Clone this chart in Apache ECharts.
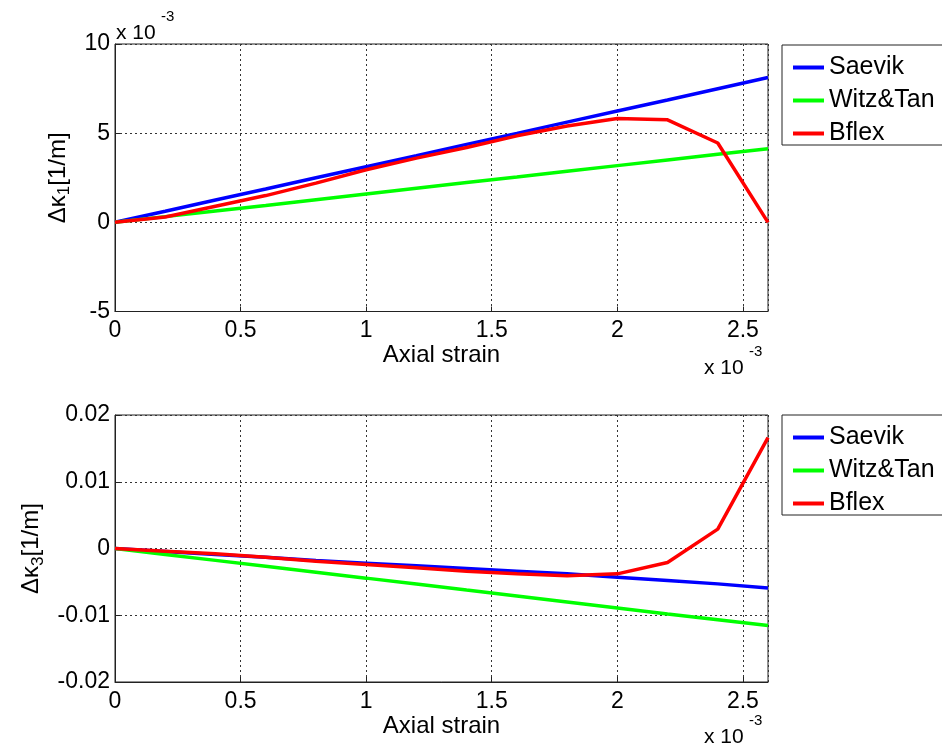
<!DOCTYPE html>
<html>
<head>
<meta charset="utf-8">
<script src="https://cdn.jsdelivr.net/npm/echarts@6/dist/echarts.min.js"></script>
<style>html,body{margin:0;padding:0;background:#fff}#c{width:942px;height:752px}</style>
</head>
<body>
<div id="c"></div>
<script>
// Axial strain (x 10^-3)
var strain = [0, 0.2, 0.4, 0.6, 0.8, 1.0, 1.2, 1.4, 1.6, 1.8, 2.0, 2.2, 2.4, 2.6];
// Δκ1 (x 10^-3)
var k1Saevik = [0, 0.62, 1.25, 1.87, 2.50, 3.12, 3.74, 4.37, 4.99, 5.62, 6.24, 6.86, 7.49, 8.12];
var k1Witz   = [0, 0.32, 0.64, 0.95, 1.27, 1.59, 1.91, 2.23, 2.54, 2.86, 3.18, 3.50, 3.82, 4.13];
var k1Bflex  = [0, 0.30, 0.90, 1.50, 2.20, 2.95, 3.60, 4.20, 4.85, 5.40, 5.82, 5.75, 4.45, 0.00];
// Δκ3
var k3Saevik = [0, -0.00045, -0.0009, -0.0013, -0.0018, -0.0022, -0.0026, -0.0030, -0.0034, -0.0038, -0.0043, -0.0048, -0.0053, -0.0059];
var k3Witz   = [0, -0.00089, -0.00178, -0.00267, -0.00356, -0.00444, -0.00533, -0.00622, -0.0071, -0.0080, -0.0089, -0.0098, -0.01067, -0.01155];
var k3Bflex  = [0, -0.0004, -0.0008, -0.0013, -0.0019, -0.0024, -0.0029, -0.0034, -0.0038, -0.0041, -0.0038, -0.0021, 0.0029, 0.0166];
var seriesNames = ['Saevik', 'Witz&Tan', 'Bflex'];
var seriesColors = ['#0000ff', '#00ff00', '#ff0000'];

function pairs(ys) { return strain.map(function (x, i) { return [x, ys[i]]; }); }

var FONT = 'Liberation Sans, Arial, sans-serif';
var chart = echarts.init(document.getElementById('c'), null, {renderer: 'canvas'});

function xAxisOpt(gi) {
  return {
    type: 'value', gridIndex: gi, min: 0, max: 2.6, interval: 0.5,
    name: 'Axial strain', nameLocation: 'middle', nameGap: 32,
    nameTextStyle: {fontFamily: FONT, fontSize: 24, color: '#000'},
    axisLine: {show: true, onZero: false, lineStyle: {color: '#222', width: 1}},
    axisTick: {show: true, inside: true, length: 5, lineStyle: {color: '#222'}},
    axisLabel: {fontFamily: FONT, fontSize: 23, color: '#000', margin: 8, showMaxLabel: false},
    splitLine: {show: true, lineStyle: {color: '#333', type: [2, 3], width: 1}}
  };
}
function yAxisOpt(gi, min, max, interval, sub) {
  return {
    type: 'value', gridIndex: gi, min: min, max: max, interval: interval,
    name: '{n|Δκ}{s|' + sub + '}{n|[1/m]}', nameLocation: 'middle', nameGap: 42,
    nameTextStyle: {
      fontFamily: FONT, color: '#000',
      rich: {
        n: {fontFamily: FONT, fontSize: 24, color: '#000', lineHeight: 30, verticalAlign: 'middle'},
        s: {fontFamily: FONT, fontSize: 17, color: '#000', lineHeight: 30, verticalAlign: 'bottom', padding: [10, 0, 0, 0]}
      }
    },
    axisLine: {show: true, lineStyle: {color: '#222', width: 1}},
    axisTick: {show: true, inside: true, length: 5, lineStyle: {color: '#222'}},
    axisLabel: {fontFamily: FONT, fontSize: 23, color: '#000', margin: 5},
    splitLine: {show: true, lineStyle: {color: '#333', type: [2, 3], width: 1}}
  };
}
function legendOpt(top) {
  return {
    orient: 'vertical', left: 788, top: top, itemWidth: 31, itemHeight: 4, itemGap: 8,
    icon: 'rect', data: seriesNames,
    textStyle: {fontFamily: FONT, fontSize: 25, color: '#000', lineHeight: 25, padding: [0, 0, 0, 0]},
    selectedMode: false
  };
}

var series = [];
[[k1Saevik, k1Witz, k1Bflex], [k3Saevik, k3Witz, k3Bflex]].forEach(function (set, gi) {
  set.forEach(function (ys, si) {
    series.push({
      type: 'line', name: seriesNames[si], xAxisIndex: gi, yAxisIndex: gi,
      data: pairs(ys), showSymbol: false, symbol: 'none', smooth: false,
      lineStyle: {color: seriesColors[si], width: 3.5}, itemStyle: {color: seriesColors[si]},
      animation: false, z: 3 + si
    });
  });
});

function expText(x, y) {
  return [
    {type: 'text', left: x, top: y, style: {text: 'x 10', fontFamily: FONT, fontSize: 21, fill: '#000'}},
    {type: 'text', left: x + 45, top: y - 14, style: {text: '-3', fontFamily: FONT, fontSize: 15, fill: '#000'}}
  ];
}

chart.setOption({
  backgroundColor: '#fff',
  animation: false,
  grid: [
    {left: 115, top: 44, width: 653, height: 267.5, show: true, borderColor: '#222', borderWidth: 1, backgroundColor: '#fff'},
    {left: 115, top: 415, width: 653, height: 267, show: true, borderColor: '#222', borderWidth: 1, backgroundColor: '#fff'}
  ],
  xAxis: [xAxisOpt(0), xAxisOpt(1)],
  yAxis: [yAxisOpt(0, -5, 10, 5, '1'), yAxisOpt(1, -0.02, 0.02, 0.01, '3')],
  legend: [legendOpt(50), legendOpt(420)],
  series: series,
  graphic: [
    {type: 'rect', shape: {x: 782, y: 45, width: 175, height: 100}, style: {fill: 'none', stroke: '#222', lineWidth: 1}},
    {type: 'rect', shape: {x: 782, y: 415, width: 175, height: 100}, style: {fill: 'none', stroke: '#222', lineWidth: 1}}
  ].concat(expText(116, 23)).concat(expText(704, 358)).concat(expText(704, 727))
});
</script>
</body>
</html>
